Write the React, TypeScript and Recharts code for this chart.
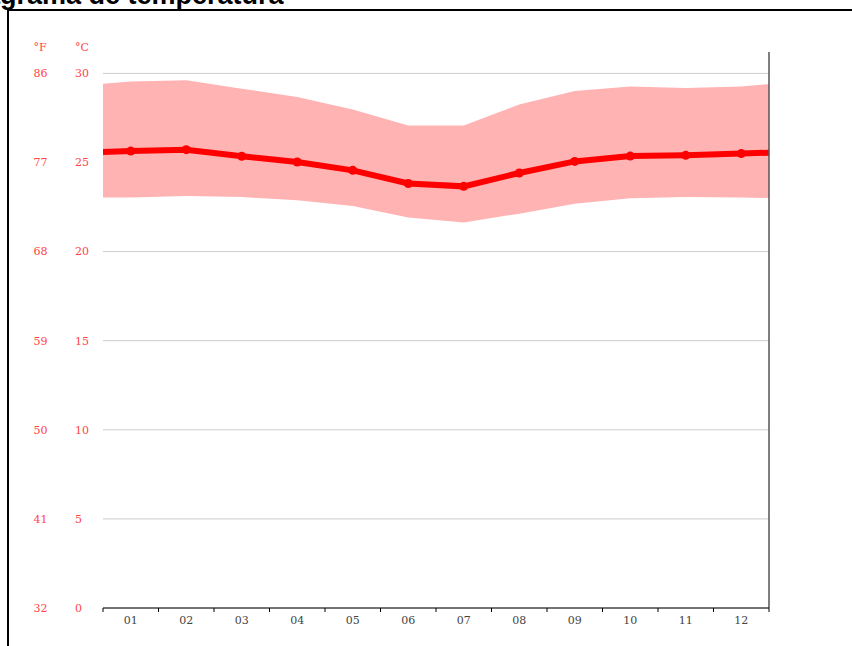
import React from "react";
import {
  ComposedChart,
  Area,
  Line,
  XAxis,
  YAxis,
  CartesianGrid,
  ReferenceLine,
} from "recharts";

// months shown on the x axis
const months = ["01", "02", "03", "04", "05", "06", "07", "08", "09", "10", "11", "12"];

// °C
const meanTemp = [25.64, 25.72, 25.35, 25.03, 24.56, 23.82, 23.66, 24.41, 25.06, 25.36, 25.4, 25.5];
const maxTemp = [29.55, 29.61, 29.14, 28.67, 27.97, 27.08, 27.08, 28.25, 29.01, 29.27, 29.18, 29.27];
const minTemp = [23.03, 23.12, 23.06, 22.88, 22.56, 21.91, 21.63, 22.13, 22.69, 22.99, 23.06, 23.03];

// values where the band and line meet the left / right edges
const edgeStart = { mean: 25.59, min: 23.03, max: 29.42 };
const edgeEnd = { mean: 25.55, min: 23.01, max: 29.4 };

const celsiusTicks = [0, 5, 10, 15, 20, 25, 30];
const fahrenheitTicks = [32, 41, 50, 59, 68, 77, 86];

const rows = [
  { x: 0.5, mean: edgeStart.mean, band: [edgeStart.min, edgeStart.max], edge: true },
  ...months.map((m, i) => ({
    x: i + 1,
    mean: meanTemp[i],
    band: [minTemp[i], maxTemp[i]],
    edge: false,
  })),
  { x: months.length + 0.5, mean: edgeEnd.mean, band: [edgeEnd.min, edgeEnd.max], edge: true },
];

const boundaryTicks = [...months.map((_, i) => i + 0.5), months.length + 0.5];
const centerTicks = months.map((_, i) => i + 1);

const RED = "#ff4545";
const tickFont = { fontFamily: "'DejaVu Serif', serif", fontSize: 11 };

function DualTick(props: any) {
  const { y, payload } = props;
  const f = fahrenheitTicks[celsiusTicks.indexOf(payload.value)];
  return (
    <g>
      <text x={33.5} y={y} dy="0.35em" textAnchor="start" fill={RED} {...tickFont}>
        {f}
      </text>
      <text x={75} y={y} dy="0.35em" textAnchor="start" fill={RED} {...tickFont}>
        {payload.value}
      </text>
    </g>
  );
}

function MeanDot(props: any) {
  const { cx, cy, payload, index } = props;
  if (payload.edge) return <g key={`d${index}`} />;
  return <circle key={`d${index}`} cx={cx} cy={cy} r={4.5} fill="#ff0000" />;
}

export default function App() {
  return (
    <div style={{ position: "fixed", left: 0, top: 0, width: 852, height: 646, overflow: "hidden", background: "#fff" }}>
      <div
        style={{
          position: "absolute",
          left: 7,
          top: 9,
          width: 900,
          height: 700,
          borderLeft: "2px solid #000",
          borderTop: "2px solid #000",
        }}
      />
      <div style={{ position: "absolute", left: 0, top: 0 }}>
        <ComposedChart
          width={852}
          height={646}
          data={rows}
          margin={{ top: 52, right: 83, bottom: 2, left: 0 }}
        >
          <CartesianGrid
            vertical={false}
            stroke="#cccccc"
            xAxisId="b"
            horizontalValues={celsiusTicks}
          />
          <XAxis
            xAxisId="b"
            type="number"
            dataKey="x"
            domain={[0.5, 12.5]}
            allowDataOverflow
            ticks={boundaryTicks}
            tickFormatter={() => ""}
            tickSize={4}
            height={6}
            axisLine={{ stroke: "#000" }}
            tickLine={{ stroke: "#000" }}
          />
          <XAxis
            xAxisId="l"
            type="number"
            dataKey="x"
            domain={[0.5, 12.5]}
            allowDataOverflow
            ticks={centerTicks}
            tickFormatter={(v: number) => months[v - 1]}
            axisLine={false}
            tickLine={false}
            tickSize={0}
            tickMargin={2.5}
            height={30}
            tick={{ fill: "#444", ...tickFont }}
          />
          <YAxis
            type="number"
            domain={[0, 31.2]}
            allowDataOverflow
            ticks={celsiusTicks}
            width={103}
            axisLine={false}
            tickLine={false}
            interval={0}
            tick={<DualTick />}
          />
          <Area
            xAxisId="b"
            type="linear"
            dataKey="band"
            stroke="none"
            fill="#ffb3b3"
            fillOpacity={1}
            activeDot={false}
            isAnimationActive={false}
          />
          <Line
            xAxisId="b"
            type="linear"
            dataKey="mean"
            stroke="#ff0000"
            strokeWidth={6}
            dot={MeanDot}
            activeDot={false}
            isAnimationActive={false}
          />
          <ReferenceLine xAxisId="b" x={12.5} stroke="#555" strokeWidth={1.5} />
        </ComposedChart>
      </div>
      <svg
        width={852}
        height={646}
        style={{ position: "absolute", left: 0, top: 0, pointerEvents: "none" }}
      >
        <text
          x={-42}
          y={4}
          fontFamily="'Liberation Sans', Arial, sans-serif"
          fontWeight="bold"
          fontSize={27}
          fill="#000"
        >
          Diagrama de temperatura
        </text>
        <text x={33.5} y={47} dy="0.35em" fill={RED} {...tickFont}>
          °F
        </text>
        <text x={75} y={47} dy="0.35em" fill={RED} {...tickFont}>
          °C
        </text>
      </svg>
    </div>
  );
}
